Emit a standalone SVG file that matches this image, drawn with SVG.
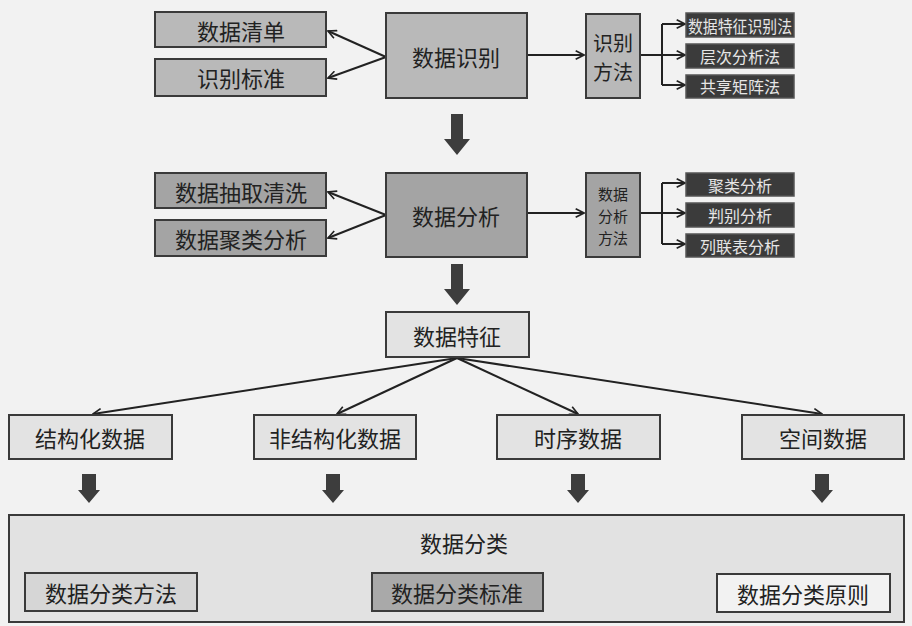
<svg xmlns="http://www.w3.org/2000/svg" width="912" height="626" viewBox="0 0 912 626">
<defs>
<marker id="open" viewBox="0 0 12 12" refX="11" refY="6" markerWidth="10" markerHeight="10" markerUnits="userSpaceOnUse" orient="auto">
<path d="M1,1 L11,6 L1,11" fill="none" stroke="#222" stroke-width="2"/>
</marker>
<g id="fat"><path d="M-6,0 H6 V25 H13 L0,41 L-13,25 H-6 Z" fill="#3d3d3d"/></g>
<g id="fatS"><path d="M-7,0 H7 V16 H11 L0,29 L-11,16 H-7 Z" fill="#3d3d3d"/></g>
</defs>
<style>
text{font-family:"Noto Sans CJK SC","Noto Sans CJK JP",sans-serif;fill:#222;text-anchor:middle;dominant-baseline:central}
.t22{font-size:22px}
.dk text{fill:#e6e6e6}
.box{stroke:#3a3a3a;stroke-width:2}
.mid{fill:#b9b9b9}
.mid2{fill:#a4a4a4}
.dark{fill:#3b3b3b;stroke:#555;stroke-width:1.5}
.light{fill:#e3e3e3}
.conn line,.conn path{stroke:#222;stroke-width:2;fill:none}
</style>
<rect width="912" height="626" fill="#f2f2f2"/>

<g class="conn">
<line x1="386" y1="57" x2="328" y2="31" marker-end="url(#open)"/>
<line x1="386" y1="57" x2="328" y2="78" marker-end="url(#open)"/>
<line x1="527" y1="55" x2="584" y2="55" marker-end="url(#open)"/>
<path d="M640,55 H662"/>
<path d="M662,24 V85"/>
<line x1="662" y1="24" x2="685" y2="24" marker-end="url(#open)"/>
<line x1="662" y1="55" x2="685" y2="55" marker-end="url(#open)"/>
<line x1="662" y1="85" x2="685" y2="85" marker-end="url(#open)"/>

<line x1="386" y1="215" x2="328" y2="192" marker-end="url(#open)"/>
<line x1="386" y1="215" x2="328" y2="238" marker-end="url(#open)"/>
<line x1="527" y1="213" x2="584" y2="213" marker-end="url(#open)"/>
<path d="M640,213 H662"/>
<path d="M662,183 V244"/>
<line x1="662" y1="183" x2="685" y2="183" marker-end="url(#open)"/>
<line x1="662" y1="213" x2="685" y2="213" marker-end="url(#open)"/>
<line x1="662" y1="244" x2="685" y2="244" marker-end="url(#open)"/>

<line x1="457" y1="358" x2="93" y2="414" marker-end="url(#open)"/>
<line x1="457" y1="358" x2="337" y2="414" marker-end="url(#open)"/>
<line x1="457" y1="358" x2="578" y2="414" marker-end="url(#open)"/>
<line x1="457" y1="358" x2="822" y2="414" marker-end="url(#open)"/>

<use href="#fat" x="457" y="114"/>
<use href="#fat" x="457" y="264"/>
<use href="#fatS" x="89" y="474"/>
<use href="#fatS" x="333" y="474"/>
<use href="#fatS" x="578" y="474"/>
<use href="#fatS" x="822" y="474"/>
</g>

<g id="n-qingdan"><rect class="box mid" x="155" y="12" width="171" height="35"/><text class="t22" x="241" y="30">数据清单</text></g>
<g id="n-biaozhun"><rect class="box mid" x="155" y="59" width="171" height="37"/><text class="t22" x="241" y="77">识别标准</text></g>
<g id="n-shibie"><rect class="box mid" x="386" y="13" width="141" height="85"/><text class="t22" x="456" y="56">数据识别</text></g>
<g id="n-fangfa"><rect class="box mid" x="586" y="14" width="54" height="84"/><text font-size="20"><tspan x="613" y="42">识别</tspan><tspan x="613" y="71">方法</tspan></text></g>
<g id="n-tezheng-shibie" class="dk"><rect class="dark" x="686" y="13" width="108" height="24"/><text x="740" y="25" font-size="17" textLength="104" lengthAdjust="spacingAndGlyphs">数据特征识别法</text></g>
<g id="n-cengci" class="dk"><rect class="dark" x="686" y="44" width="108" height="24"/><text x="740" y="56" font-size="16">层次分析法</text></g>
<g id="n-gongxiang" class="dk"><rect class="dark" x="686" y="75" width="108" height="23"/><text x="740" y="86" font-size="16">共享矩阵法</text></g>

<g id="n-chouqu"><rect class="box mid2" x="155" y="173" width="171" height="35"/><text class="t22" x="241" y="191">数据抽取清洗</text></g>
<g id="n-julei"><rect class="box mid2" x="155" y="220" width="171" height="36"/><text class="t22" x="241" y="238">数据聚类分析</text></g>
<g id="n-fenxi"><rect class="box mid2" x="386" y="173" width="141" height="84"/><text class="t22" x="456" y="215">数据分析</text></g>
<g id="n-fxff"><rect class="box mid2" x="586" y="173" width="54" height="84"/><text font-size="15"><tspan x="613" y="193">数据</tspan><tspan x="613" y="215">分析</tspan><tspan x="613" y="237">方法</tspan></text></g>
<g id="n-jlfx" class="dk"><rect class="dark" x="686" y="173" width="108" height="23"/><text x="740" y="185" font-size="16">聚类分析</text></g>
<g id="n-pbfx" class="dk"><rect class="dark" x="686" y="203" width="108" height="24"/><text x="740" y="215" font-size="16">判别分析</text></g>
<g id="n-llb" class="dk"><rect class="dark" x="686" y="234" width="108" height="23"/><text x="740" y="246" font-size="16">列联表分析</text></g>

<g id="n-tezheng"><rect class="box light" x="386" y="312" width="143" height="45"/><text class="t22" x="457" y="335">数据特征</text></g>

<g id="n-jiegou"><rect class="box light" x="9" y="415" width="163" height="44"/><text class="t22" x="90" y="437">结构化数据</text></g>
<g id="n-feijiegou"><rect class="box light" x="254" y="415" width="162" height="44"/><text class="t22" x="335" y="437">非结构化数据</text></g>
<g id="n-shixu"><rect class="box light" x="497" y="415" width="163" height="44"/><text class="t22" x="578" y="437">时序数据</text></g>
<g id="n-kongjian"><rect class="box light" x="742" y="415" width="162" height="44"/><text class="t22" x="823" y="437">空间数据</text></g>

<g id="n-fenlei">
<rect class="box" fill="#e2e2e2" x="9" y="515" width="895" height="107"/>
<text class="t22" x="464" y="542">数据分类</text>
</g>
<g id="n-flff"><rect class="box" fill="#d6d6d6" x="25" y="573" width="172" height="38"/><text class="t22" x="111" y="592">数据分类方法</text></g>
<g id="n-flbz"><rect class="box" fill="#a9a9a9" x="372" y="573" width="171" height="38"/><text class="t22" x="457" y="592">数据分类标准</text></g>
<g id="n-flyz"><rect class="box" fill="#f2f2f2" x="717" y="574" width="173" height="38"/><text class="t22" x="803" y="593">数据分类原则</text></g>
</svg>
